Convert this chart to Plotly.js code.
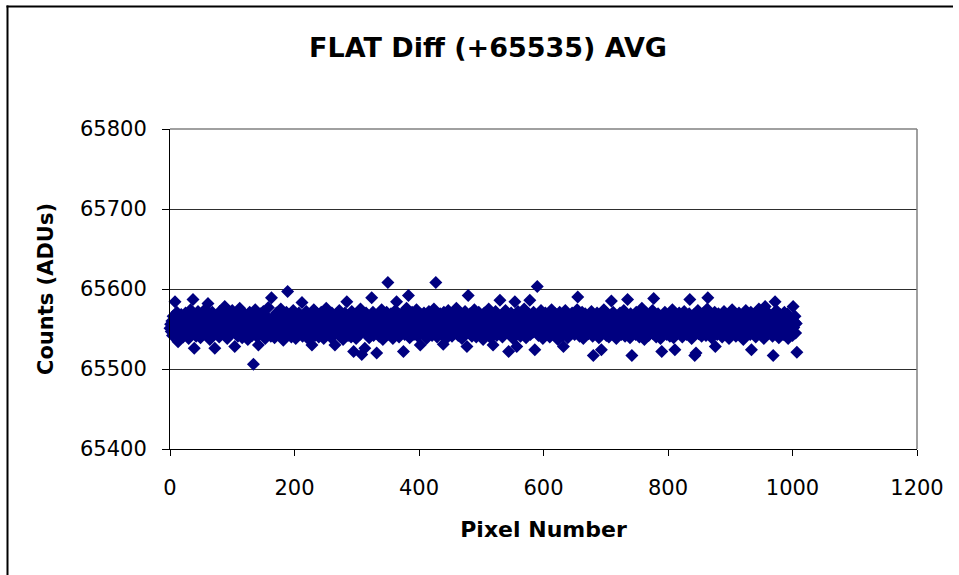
<!DOCTYPE html>
<html>
<head>
<meta charset="utf-8">
<script src="https://cdn.plot.ly/plotly-3.0.1.min.js"></script>
<style>
  html, body { margin: 0; padding: 0; background: #ffffff; }
  #chart { width: 959px; height: 575px; }
</style>
</head>
<body>
<div id="chart"></div>
<script>
// Chart text
const chartTitle = 'FLAT Diff (+65535) AVG';
const xLabel = 'Pixel Number';
const yLabel = 'Counts (ADUs)';

// Axis ticks
const xTicks = [0, 200, 400, 600, 800, 1000, 1200];
const yTicks = [65400, 65500, 65600, 65700, 65800];

// Averaged flat-field difference, one value per pixel (pixel 0 .. 1007)
const counts = [
  65551,65556,65547,65560,65542,65566,65553,65549,65584,65558,65545,65571,65554,65534,65562,65550,65557,65544,65568,65552,65559,65540,65563,65555,
  65548,65570,65553,65543,65561,65556,65538,65565,65550,65574,65546,65558,65552,65587,65560,65526,65555,65567,65541,65557,65549,65572,65553,65545,
  65562,65539,65558,65551,65569,65544,65556,65563,65547,65575,65554,65542,65560,65582,65550,65557,65537,65566,65553,65548,65571,65555,65543,65561,
  65526,65558,65552,65567,65545,65560,65554,65540,65572,65549,65557,65563,65546,65555,65569,65551,65578,65544,65558,65562,65538,65553,65566,65550,
  65557,65543,65564,65552,65573,65547,65556,65561,65528,65554,65568,65549,65559,65541,65565,65553,65576,65546,65557,65562,65539,65555,65570,65548,
  65560,65552,65544,65567,65556,65537,65563,65550,65571,65545,65558,65554,65542,65566,65506,65559,65548,65574,65553,65561,65540,65557,65530,65564,
  65551,65569,65546,65558,65555,65543,65572,65550,65562,65538,65557,65566,65547,65554,65577,65544,65560,65552,65541,65589,65556,65548,65565,65553,
  65539,65561,65555,65570,65546,65558,65551,65564,65542,65557,65575,65549,65553,65568,65536,65559,65562,65545,65556,65571,65550,65597,65554,65543,
  65566,65552,65558,65540,65563,65549,65573,65555,65547,65560,65538,65567,65553,65557,65544,65570,65551,65562,65546,65556,65583,65541,65559,65554,
  65564,65548,65557,65572,65543,65555,65561,65537,65568,65552,65558,65545,65530,65566,65550,65574,65556,65542,65563,65553,65547,65569,65558,65540,
  65555,65562,65549,65571,65544,65557,65565,65538,65553,65560,65546,65576,65551,65558,65543,65567,65555,65548,65562,65539,65570,65554,65559,65545,
  65561,65530,65556,65568,65550,65544,65563,65557,65573,65541,65554,65566,65548,65559,65537,65564,65552,65570,65546,65558,65584,65555,65542,65561,
  65549,65567,65553,65540,65572,65556,65545,65522,65560,65551,65565,65538,65557,65569,65547,65554,65562,65543,65575,65552,65518,65558,65564,65548,
  65555,65526,65561,65570,65544,65557,65550,65566,65539,65553,65562,65547,65589,65556,65571,65542,65559,65551,65564,65545,65520,65558,65568,65553,
  65541,65563,65555,65548,65574,65557,65537,65560,65552,65567,65544,65558,65571,65550,65608,65556,65543,65562,65554,65569,65546,65559,65538,65565,
  65552,65557,65573,65545,65584,65561,65549,65555,65540,65568,65553,65564,65547,65558,65570,65522,65556,65543,65562,65551,65576,65548,65559,65592,
  65554,65539,65566,65557,65546,65571,65552,65560,65543,65563,65555,65548,65574,65558,65541,65565,65553,65561,65530,65568,65556,65547,65559,65544,
  65570,65551,65557,65564,65538,65555,65562,65549,65572,65554,65545,65560,65567,65542,65558,65552,65575,65547,65556,65608,65561,65540,65566,65553,
  65559,65546,65569,65555,65543,65563,65550,65531,65571,65557,65548,65565,65554,65539,65561,65573,65552,65558,65544,65567,65556,65541,65562,65550,
  65568,65553,65545,65560,65576,65549,65557,65542,65564,65555,65570,65547,65559,65538,65566,65552,65561,65544,65572,65556,65550,65528,65563,65592,
  65557,65545,65569,65553,65560,65541,65566,65555,65548,65574,65552,65558,65540,65563,65556,65546,65571,65554,65559,65543,65567,65551,65562,65537,
  65558,65570,65549,65555,65564,65544,65561,65553,65575,65547,65557,65539,65568,65552,65560,65530,65565,65554,65546,65572,65556,65542,65563,65550,
  65558,65566,65586,65548,65555,65561,65540,65569,65553,65557,65545,65573,65551,65562,65547,65559,65522,65564,65555,65543,65570,65552,65558,65538,
  65567,65554,65584,65549,65561,65528,65556,65572,65545,65558,65563,65541,65553,65568,65550,65557,65544,65575,65555,65560,65539,65564,65552,65547,
  65569,65556,65586,65543,65562,65551,65558,65546,65571,65554,65524,65560,65548,65566,65603,65555,65542,65563,65557,65549,65573,65552,65559,65538,
  65565,65554,65547,65570,65556,65561,65544,65558,65551,65567,65540,65562,65555,65574,65548,65557,65543,65564,65553,65569,65546,65559,65552,65537,
  65563,65556,65571,65545,65558,65550,65566,65542,65528,65560,65554,65573,65547,65557,65562,65539,65568,65553,65549,65565,65555,65544,65570,65558,
  65551,65561,65543,65567,65556,65548,65574,65590,65553,65559,65541,65564,65555,65547,65571,65558,65538,65562,65552,65569,65545,65557,65563,65550,
  65544,65566,65555,65560,65548,65572,65553,65541,65517,65558,65564,65550,65556,65545,65570,65554,65561,65539,65567,65552,65557,65524,65563,65548,
  65559,65574,65546,65555,65562,65542,65568,65553,65557,65540,65565,65551,65560,65585,65547,65556,65571,65544,65558,65563,65550,65538,65566,65554,
  65561,65545,65557,65570,65552,65543,65564,65555,65549,65573,65558,65541,65562,65553,65567,65587,65547,65556,65560,65539,65569,65554,65517,65558,
  65546,65565,65552,65559,65543,65571,65555,65548,65563,65557,65540,65568,65551,65561,65576,65545,65556,65564,65537,65558,65553,65570,65547,65560,
  65554,65542,65567,65557,65549,65562,65555,65573,65544,65588,65558,65551,65565,65540,65560,65553,65569,65547,65556,65563,65538,65559,65522,65566,
  65552,65558,65545,65571,65555,65561,65543,65564,65550,65557,65568,65541,65554,65562,65548,65574,65556,65539,65560,65524,65553,65567,65546,65558,
  65563,65551,65570,65544,65557,65555,65566,65540,65559,65552,65572,65547,65561,65554,65543,65565,65556,65549,65569,65587,65553,65558,65538,65562,
  65555,65546,65568,65517,65557,65520,65560,65551,65573,65544,65558,65563,65549,65556,65541,65566,65553,65570,65547,65559,65562,65542,65555,65575,
  65589,65552,65558,65545,65564,65556,65539,65567,65553,65560,65548,65571,65528,65557,65562,65543,65555,65569,65550,65558,65546,65565,65554,65540,
  65561,65556,65572,65547,65558,65552,65566,65543,65560,65555,65538,65569,65553,65557,65548,65574,65556,65544,65562,65551,65567,65541,65559,65554,
  65563,65546,65570,65555,65558,65542,65565,65552,65560,65537,65568,65556,65549,65573,65554,65561,65545,65557,65566,65550,65543,65571,65524,65558,
  65553,65564,65547,65559,65555,65540,65569,65552,65561,65545,65575,65556,65550,65563,65542,65558,65567,65554,65538,65560,65578,65549,65557,65564,
  65544,65570,65555,65552,65562,65547,65558,65566,65541,65517,65556,65560,65584,65550,65573,65545,65557,65563,65539,65554,65568,65548,65559,65552,
  65565,65543,65557,65571,65550,65561,65546,65555,65569,65538,65558,65553,65564,65547,65560,65556,65542,65578,65552,65559,65566,65545,65557,65521
];

// Page and plot-frame geometry (pixels)
const W = 959, H = 575;
const L = 170, R = 917, T = 129, B = 449;
const toPaperX = (px) => (px - L) / (R - L);
const toPaperY = (py) => (B - py) / (B - T);

const fontFamily = 'DejaVu Sans, Liberation Sans, Arial, sans-serif';

const trace = {
  type: 'scatter',
  mode: 'markers',
  x0: 0,
  dx: 1,
  y: counts,
  cliponaxis: false,
  marker: { symbol: 'diamond', size: 10, color: '#000080', line: { width: 0 } },
  hovertemplate: 'Pixel %{x}<br>%{y} ADU<extra></extra>'
};

const frameLine = (x0, y0, x1, y1, color, width) => ({
  type: 'line', xref: 'paper', yref: 'paper',
  x0: x0, y0: y0, x1: x1, y1: y1,
  line: { color: color, width: width }, layer: 'above'
});

const layout = {
  width: W,
  height: H,
  margin: { l: L, r: W - R, t: T, b: H - B, pad: 0 },
  paper_bgcolor: '#ffffff',
  plot_bgcolor: '#ffffff',
  showlegend: false,
  font: { family: fontFamily, color: '#000000' },
  title: {
    text: chartTitle,
    font: { family: fontFamily, size: 27, weight: 'bold', color: '#000000' },
    xref: 'container', x: 488 / W, xanchor: 'center',
    yref: 'container', y: 1 - 48 / H, yanchor: 'middle'
  },
  xaxis: {
    range: [0, 1200],
    tickmode: 'array',
    tickvals: xTicks,
    ticktext: xTicks.map(String),
    ticks: 'outside', ticklen: 6, tickwidth: 1, tickcolor: '#000000',
    showline: true, linecolor: '#000000', linewidth: 1,
    showgrid: false, zeroline: false,
    tickfont: { family: fontFamily, size: 21, color: '#000000' },
    ticklabelstandoff: 14,
    title: { text: xLabel, font: { family: fontFamily, size: 22, weight: 'bold', color: '#000000' }, standoff: 22 },
    fixedrange: true
  },
  yaxis: {
    range: [65400, 65800],
    tickmode: 'array',
    tickvals: yTicks,
    ticktext: yTicks.map(String),
    ticks: 'outside', ticklen: 7, tickwidth: 1, tickcolor: '#000000',
    showline: true, linecolor: '#000000', linewidth: 1,
    showgrid: true, gridcolor: '#2e2e2e', gridwidth: 1,
    zeroline: false,
    tickfont: { family: fontFamily, size: 21, color: '#000000' },
    ticklabelstandoff: 11,
    title: { text: yLabel, font: { family: fontFamily, size: 21, weight: 'bold', color: '#000000' }, standoff: 20 },
    fixedrange: true
  },
  shapes: [
    // plot area frame, top and right edges
    frameLine(0, 1, 1, 1, '#808080', 1.5),
    frameLine(1, 0, 1, 1, '#808080', 1.5),
    // outer chart frame, left and top edges
    frameLine(toPaperX(7.5), toPaperY(5.5), toPaperX(7.5), toPaperY(585), '#000000', 2),
    frameLine(toPaperX(6.5), toPaperY(6.5), toPaperX(953), toPaperY(6.5), '#000000', 2)
  ]
};

Plotly.newPlot('chart', [trace], layout, { displayModeBar: false, responsive: false });
</script>
</body>
</html>
